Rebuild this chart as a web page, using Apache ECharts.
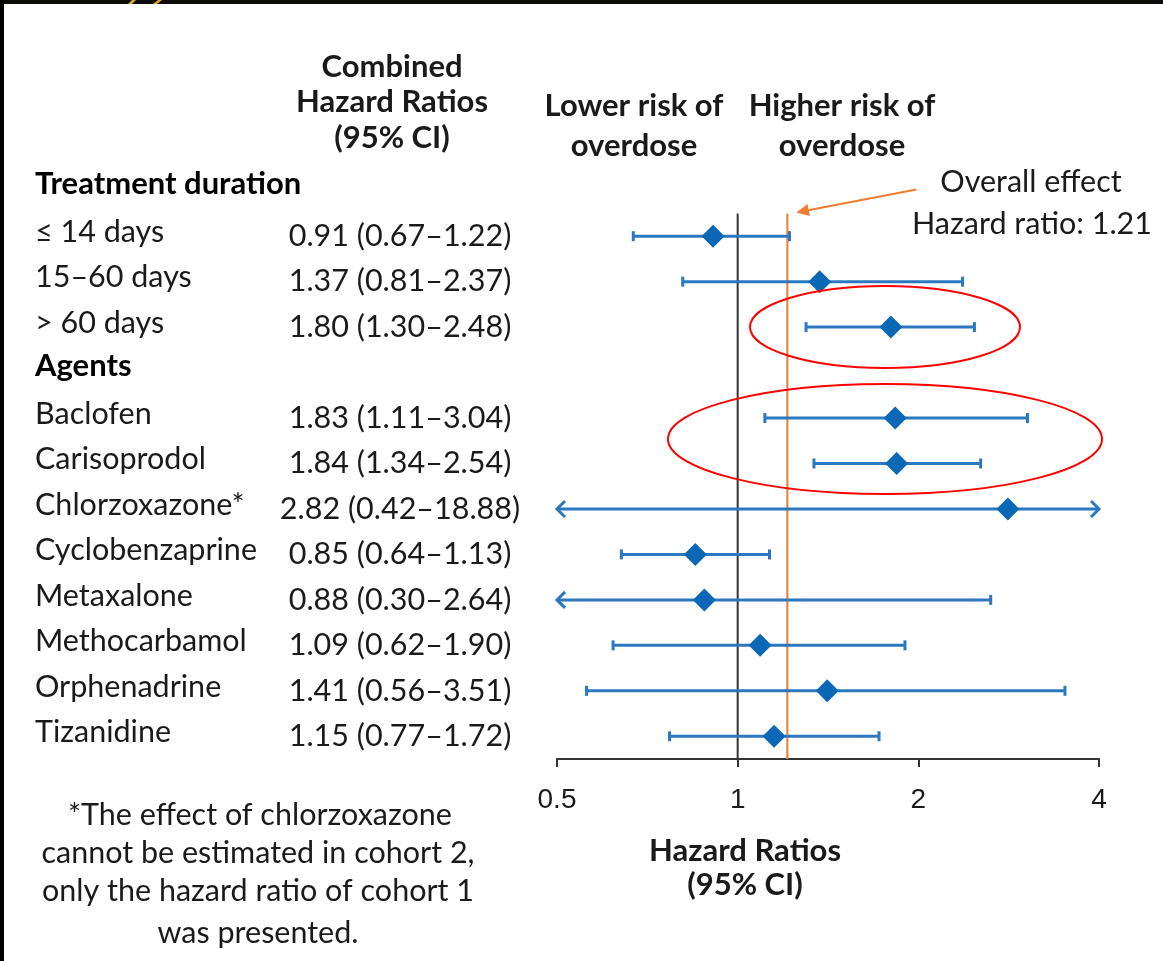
<!DOCTYPE html>
<html><head><meta charset="utf-8">
<script src="https://cdn.jsdelivr.net/npm/echarts@6/dist/echarts.min.js"></script>
<style>html,body{margin:0;padding:0;background:#fff}#c{width:1163px;height:961px}</style>
</head><body><div id="c"></div>
<script>
// ---- data ----
const rows = ['Treatment duration','≤ 14 days','15–60 days','> 60 days','Agents','Baclofen','Carisoprodol','Chlorzoxazone*','Cyclobenzaprine','Metaxalone','Methocarbamol','Orphenadrine','Tizanidine'];
const headerRows = ['Treatment duration','Agents'];
const hr     = [null,0.91,1.37,1.80,null,1.83,1.84,2.82,0.85,0.88,1.09,1.41,1.15];
const ciLow  = [null,0.67,0.81,1.30,null,1.11,1.34,0.42,0.64,0.30,0.62,0.56,0.77];
const ciHigh = [null,1.22,2.37,2.48,null,3.04,2.54,18.88,1.13,2.64,1.90,3.51,1.72];
const overallHR = 1.21;
const nullHR = 1;
const xTicks = [0.5,1,2,4];
const xMin = 0.5, xMax = 4;

// ---- styles ----
const FONT = 'Lato';
const FS = 30.5, FSB = 31;
const BLUE_LINE = '#2b78c0', BLUE = '#0a68b6', ORANGE = '#ed7d31', INK = '#1a1a1a';

const hrText = rows.map((r,i)=> hr[i]==null ? '' : `${hr[i].toFixed(2)} (${ciLow[i].toFixed(2)}–${ciHigh[i].toFixed(2)})`);
const ciData = [], pointData = [];
rows.forEach((r,i)=>{ if(hr[i]!=null){ ciData.push([ciLow[i], r, ciHigh[i]]); pointData.push([hr[i], r]); } });
const refData = [[nullHR, rows[1], 0],[overallHR, rows[1], 1]];
const refColors = ['#333333', ORANGE];

const chart = echarts.init(document.getElementById('c'), null, {renderer:'canvas'});

function ciItem(params, api){
  const lo = api.value(0), hi = api.value(2), cat = api.value(1);
  const loC = Math.max(lo, xMin), hiC = Math.min(hi, xMax);
  const p1 = api.coord([loC, cat]), p2 = api.coord([hiC, cat]);
  const y = p1[1];
  const st = {stroke: BLUE_LINE, lineWidth: 3, fill: null};
  const kids = [{type:'line', shape:{x1:p1[0],y1:y,x2:p2[0],y2:y}, style:st}];
  if (lo < xMin) kids.push({type:'polyline', shape:{points:[[p1[0]+8,y-8],[p1[0],y],[p1[0]+8,y+8]]}, style:st});
  else kids.push({type:'line', shape:{x1:p1[0],y1:y-5,x2:p1[0],y2:y+5}, style:st});
  if (hi > xMax) kids.push({type:'polyline', shape:{points:[[p2[0]-8,y-8],[p2[0],y],[p2[0]-8,y+8]]}, style:st});
  else kids.push({type:'line', shape:{x1:p2[0],y1:y-5,x2:p2[0],y2:y+5}, style:st});
  return {type:'group', children:kids};
}
function refItem(params, api){
  const v = api.value(0), cat = api.value(1), ci = api.value(2);
  const p = api.coord([v, cat]);
  const band = api.size([0,1])[1];
  const cs = params.coordSys;
  return {type:'line', shape:{x1:p[0], y1:p[1]-band/2, x2:p[0], y2:cs.y+cs.height},
          style:{stroke: refColors[ci], lineWidth: 2}};
}

const textStyleBase = {fontFamily: FONT, fontSize: FS, fill: INK};

chart.setOption({
  animation:false,
  backgroundColor:'#ffffff',
  grid:{left:557, right:64, top:168, bottom:202, containLabel:false},
  xAxis:{type:'log', logBase:2, min:xMin, max:xMax,
    axisLine:{show:true, lineStyle:{color:'#333', width:2}},
    axisTick:{show:true, length:8, lineStyle:{color:'#333', width:2}},
    minorTick:{show:false}, splitLine:{show:false},
    axisLabel:{fontFamily:'Liberation Sans', fontSize:28, color:INK, margin:27,
      formatter:(v)=> xTicks.find(t=>Math.abs(t-v)<1e-6) !== undefined ? String(v) : ''}},
  yAxis:[
    {type:'category', data:rows, inverse:true, axisLine:{show:false}, axisTick:{show:false}, splitLine:{show:false},
     axisLabel:{interval:0, align:'left', margin:522, color:INK, fontFamily:FONT, fontSize:FS,
       formatter:(v)=> headerRows.includes(v) ? `{h|${v}}` : `{n|${v}}`,
       rich:{h:{fontFamily:FONT, fontSize:FSB, fontWeight:'bold', color:'#000', padding:[0,0,14,0]},
             n:{fontFamily:FONT, fontSize:FS, color:INK, padding:[0,0,8,0]}}}},
    {type:'category', data:rows, inverse:true, position:'left', axisLine:{show:false}, axisTick:{show:false}, splitLine:{show:false},
     axisLabel:{interval:0, align:'center', margin:157, color:INK, fontFamily:FONT, fontSize:FS,
       formatter:(v,idx)=> hrText[idx]}}
  ],
  series:[
    {type:'custom', renderItem:refItem, data:refData, encode:{x:0, y:1}, z:1, silent:true},
    {type:'custom', renderItem:ciItem, data:ciData, encode:{x:0, y:1}, z:2, silent:true},
    {type:'scatter', data:pointData, symbol:'diamond', symbolSize:23, itemStyle:{color:BLUE, opacity:1}, z:3, silent:true}
  ]
});

// annotations
const tip = chart.convertToPixel({gridIndex:0}, [overallHR, rows[1]]);
const band = chart.convertToPixel({gridIndex:0}, [overallHR, rows[2]])[1] - tip[1];
const ax = tip[0] + 9, ay = tip[1] - band/2 - 1;
const sx = ax + 120, sy = ay - 23;
const ang = Math.atan2(sy-ay, sx-ax);
const head = [[ax,ay],[ax+14*Math.cos(ang-0.45), ay+14*Math.sin(ang-0.45)],[ax+14*Math.cos(ang+0.45), ay+14*Math.sin(ang+0.45)]];

function txt(x,y,s,bold,size,align){
  return {type:'text', x, y, style:Object.assign({}, textStyleBase, {text:s, fontWeight:bold?'bold':'normal', fontSize:size||(bold?FSB:FS), textAlign:align||'center', textVerticalAlign:'middle'}), z:10};
}

chart.setOption({graphic:[
  {type:'rect', shape:{x:0,y:0,width:1163,height:4}, style:{fill:'#0d0b07'}, z:20},
  {type:'rect', shape:{x:0,y:0,width:4,height:961}, style:{fill:'#000'}, z:20},
  {type:'polygon', shape:{points:[[128,4],[132,4],[136,0],[132,0]]}, style:{fill:'#d9a83c'}, z:21},
  {type:'polygon', shape:{points:[[153,4],[157,4],[162,0],[158,0]]}, style:{fill:'#d9a83c'}, z:21},
  txt(392,67,'Combined',true), txt(392,102,'Hazard Ratios',true), txt(392,138,'(95% CI)',true),
  txt(634,106,'Lower risk of',true), txt(634,146,'overdose',true),
  txt(842,106,'Higher risk of',true), txt(842,146,'overdose',true),
  txt(1031,182,'Overall effect',false), txt(1032,224,'Hazard ratio: 1.21',false),
  {type:'line', shape:{x1:sx,y1:sy,x2:ax+8*Math.cos(ang),y2:ay+8*Math.sin(ang)}, style:{stroke:ORANGE, lineWidth:2}, z:10},
  {type:'polygon', shape:{points:head}, style:{fill:ORANGE}, z:10},
  {type:'ellipse', shape:{cx:885, cy:327, rx:135, ry:41}, style:{stroke:'#ff0000', lineWidth:2, fill:null}, z:12},
  {type:'ellipse', shape:{cx:885, cy:439, rx:217, ry:55}, style:{stroke:'#ff0000', lineWidth:2, fill:null}, z:12},
  txt(745,851,'Hazard Ratios',true), txt(745,885,'(95% CI)',true),
  txt(260,815,'*The effect of chlorzoxazone',false), txt(258,853,'cannot be estimated in cohort 2,',false),
  txt(258,891,'only the hazard ratio of cohort 1',false), txt(258,933,'was presented.',false)
]});
</script></body></html>
